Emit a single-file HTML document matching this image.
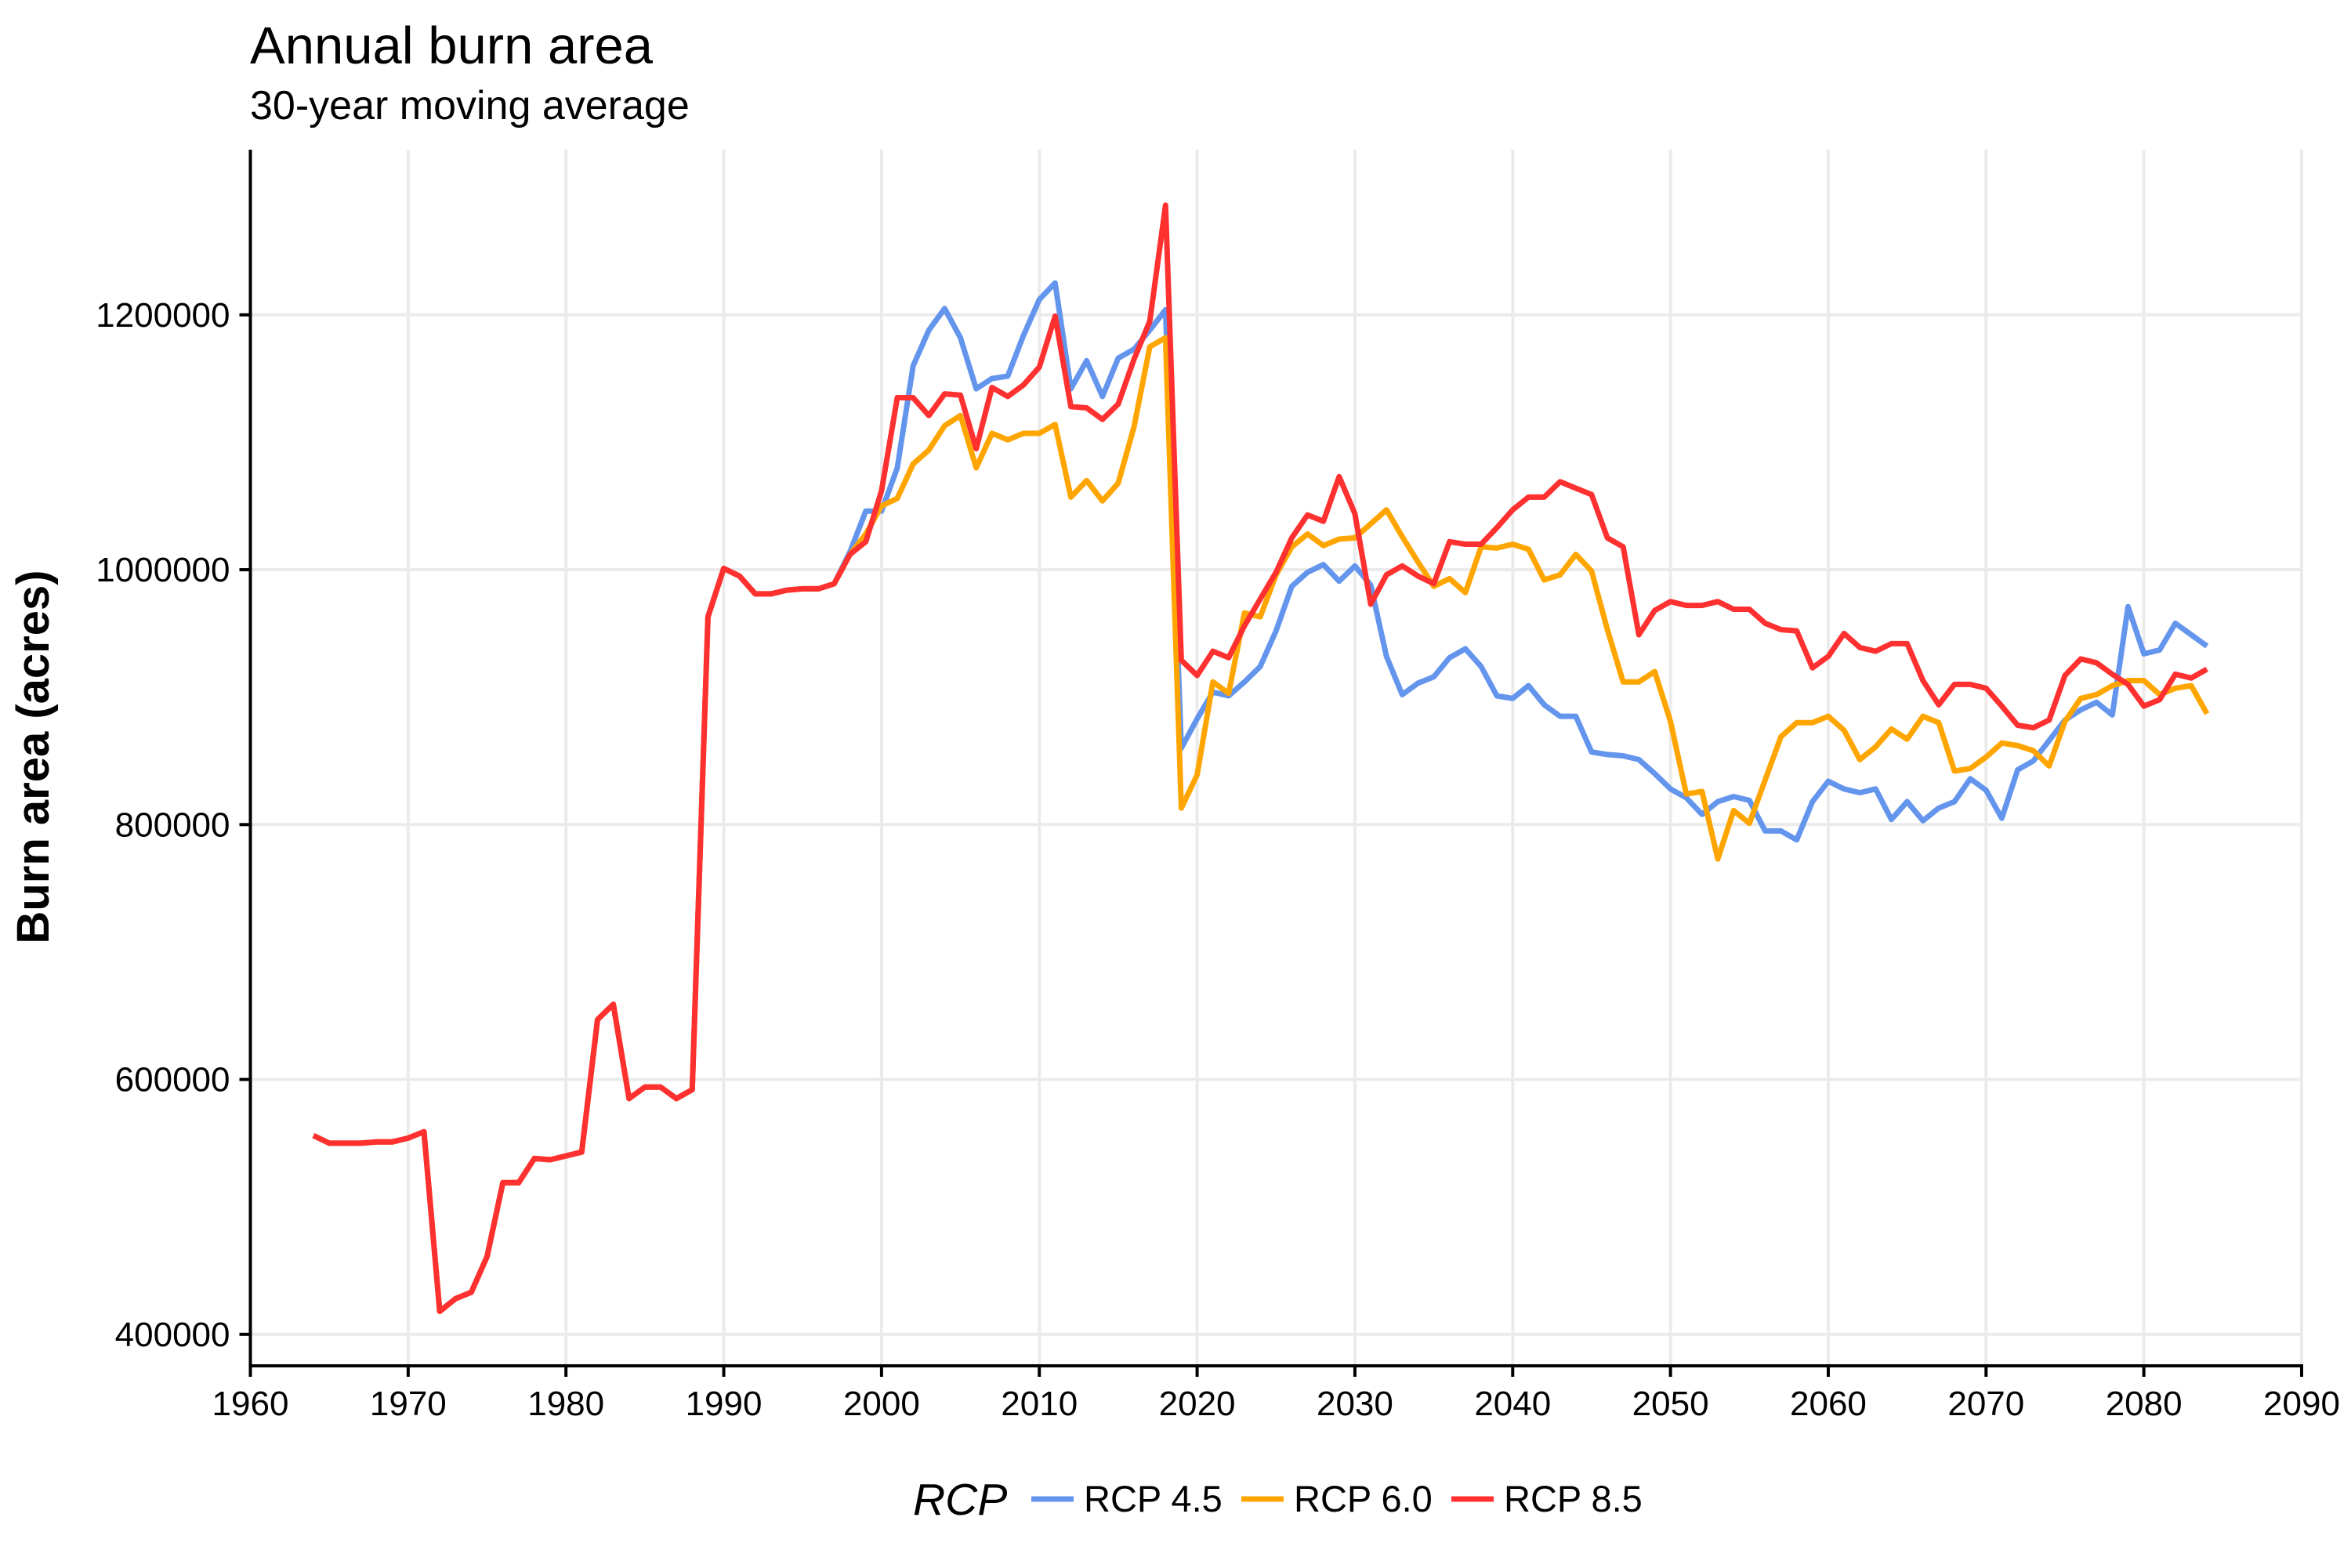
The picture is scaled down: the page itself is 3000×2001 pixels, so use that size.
<!DOCTYPE html>
<html><head><meta charset="utf-8"><style>
html,body{margin:0;padding:0;background:#fff;}
svg{display:block;font-family:"Liberation Sans",Arial,sans-serif;}
</style></head><body>
<svg id="chart" width="3000" height="2001" viewBox="0 0 3000 2001" xmlns="http://www.w3.org/2000/svg">
<rect x="0" y="0" width="3000" height="2001" fill="#fff"/>
<text x="319" y="81" font-size="67" fill="#000">Annual burn area</text>
<text x="319" y="152" font-size="52" fill="#000">30-year moving average</text>
<g id="grid"></g>
<g id="series"></g>
<g id="axes"></g>
<text transform="translate(62,966) rotate(-90)" text-anchor="middle" font-size="58" font-weight="bold" fill="#000">Burn area (acres)</text>
<g id="legend">
<text x="1165" y="1933" font-size="57" font-style="italic" fill="#000">RCP</text>
</g>
</svg>
<script>
const histYears0 = 1964;
const histValues = [556000,550000,550000,550000,551000,551000,554000,559000,418000,428000,433000,461000,519000,519000,538000,537000,540000,543000,647000,659000,585000,594000,594000,585000,592000,963000,1001000,995000,981000,981000,984000,985000,985000,989000];
const futYears0 = 1998;
const rcp45 = [1014000,1046000,1046000,1080000,1160000,1188000,1205000,1182000,1142000,1150000,1152000,1184000,1212000,1225000,1142000,1164000,1136000,1166000,1173000,1188000,1204000,860000,883000,904000,901000,912000,924000,952000,987000,998000,1004000,991000,1003000,988000,932000,902000,911000,916000,931000,938000,924000,901000,899000,909000,894000,885000,885000,857000,855000,854000,851000,840000,828000,821000,808000,818000,822000,819000,795000,795000,788000,818000,834000,828000,825000,828000,804000,818000,803000,813000,818000,836000,827000,805000,843000,850000,866000,882000,890000,896000,886000,971000,934000,937000,958000,949000,940000];
const rcp60 = [1012000,1028000,1050000,1056000,1083000,1094000,1113000,1121000,1080000,1107000,1102000,1107000,1107000,1114000,1057000,1070000,1054000,1068000,1112000,1175000,1182000,813000,839000,912000,903000,966000,963000,996000,1018000,1028000,1019000,1024000,1025000,1036000,1047000,1026000,1006000,987000,993000,982000,1018000,1017000,1020000,1016000,992000,996000,1012000,999000,953000,912000,912000,920000,881000,824000,826000,773000,811000,801000,835000,869000,880000,880000,885000,874000,851000,861000,875000,867000,885000,880000,842000,844000,853000,864000,862000,858000,846000,881000,899000,902000,909000,913000,913000,902000,907000,909000,887000];
const rcp85 = [1012000,1022000,1062000,1135000,1135000,1121000,1138000,1137000,1095000,1143000,1136000,1145000,1159000,1199000,1128000,1127000,1118000,1130000,1165000,1195000,1286000,929000,917000,936000,931000,956000,977000,998000,1025000,1043000,1038000,1073000,1044000,973000,996000,1003000,995000,989000,1022000,1020000,1020000,1033000,1047000,1057000,1057000,1069000,1064000,1059000,1025000,1018000,949000,968000,975000,972000,972000,975000,969000,969000,958000,953000,952000,923000,932000,950000,939000,936000,942000,942000,913000,894000,910000,910000,907000,893000,878000,876000,882000,917000,930000,927000,918000,910000,893000,898000,918000,915000,922000];
const seriesNames = ["RCP 4.5","RCP 6.0","RCP 8.5"];
const seriesColors = ["#6495ED","#FFA500","#FF3030"];
const xTicks = [1960,1970,1980,1990,2000,2010,2020,2030,2040,2050,2060,2070,2080,2090];
const yTicks = [400000,600000,800000,1000000,1200000];

const NS="http://www.w3.org/2000/svg";
const X0=319.5, X1=2937, Y400=1702.8, Y1200=401.8;
function sx(yr){return X0+(yr-1960)/130*(X1-X0);}
function sy(v){return Y400+(v-400000)/800000*(Y1200-Y400);}
function mk(tag,attrs,parent){const e=document.createElementNS(NS,tag);for(const k in attrs)e.setAttribute(k,attrs[k]);parent.appendChild(e);return e;}

const grid=document.getElementById('grid');
xTicks.forEach(t=>{const l=mk('line',{x1:sx(t),x2:sx(t),y1:191,y2:1743,stroke:'#ebebeb','stroke-width':4},grid);

});
yTicks.forEach(t=>{const l=mk('line',{x1:X0,x2:X1,y1:sy(t),y2:sy(t),stroke:'#ebebeb','stroke-width':4},grid);

});

const sg=document.getElementById('series');
[rcp45,rcp60,rcp85].forEach((arr,i)=>{
  const pts=[];
  histValues.forEach((v,j)=>pts.push(sx(histYears0+j).toFixed(1)+','+sy(v).toFixed(1)));
  arr.forEach((v,j)=>pts.push(sx(futYears0+j).toFixed(1)+','+sy(v).toFixed(1)));
  const p=mk('polyline',{points:pts.join(' '),fill:'none',stroke:seriesColors[i],'stroke-width':7,'stroke-linejoin':'round'},sg);
  
  
});

const ax=document.getElementById('axes');
const ya=mk('line',{x1:X0,x2:X0,y1:191,y2:1745,stroke:'#000','stroke-width':4},ax);


const xa=mk('line',{x1:X0-2,x2:X1+2,y1:1743,y2:1743,stroke:'#000','stroke-width':4},ax);


xTicks.forEach(t=>{
  const tk=mk('line',{x1:sx(t),x2:sx(t),y1:1743,y2:1757,stroke:'#000','stroke-width':4},ax);
  
  
  const tx=mk('text',{x:sx(t),y:1806,'text-anchor':'middle','font-size':44,fill:'#000'},ax);
  tx.textContent=t;
  
  
});
yTicks.forEach(t=>{
  const tk=mk('line',{x1:X0-14,x2:X0,y1:sy(t),y2:sy(t),stroke:'#000','stroke-width':4},ax);
  
  
  const tx=mk('text',{x:X0-26,y:sy(t)+15,'text-anchor':'end','font-size':44,fill:'#000'},ax);
  tx.textContent=t;
  
  
});

const lg=document.getElementById('legend');
const keyX=[1316,1584,1852];
seriesNames.forEach((n,i)=>{
  const k=mk('line',{x1:keyX[i],x2:keyX[i]+54,y1:1913,y2:1913,stroke:seriesColors[i],'stroke-width':7},lg);
  
  
  const t=mk('text',{x:keyX[i]+67,y:1929,'font-size':47,fill:'#000'},lg);
  t.textContent=n;
  
  
});
</script>
</body></html>
